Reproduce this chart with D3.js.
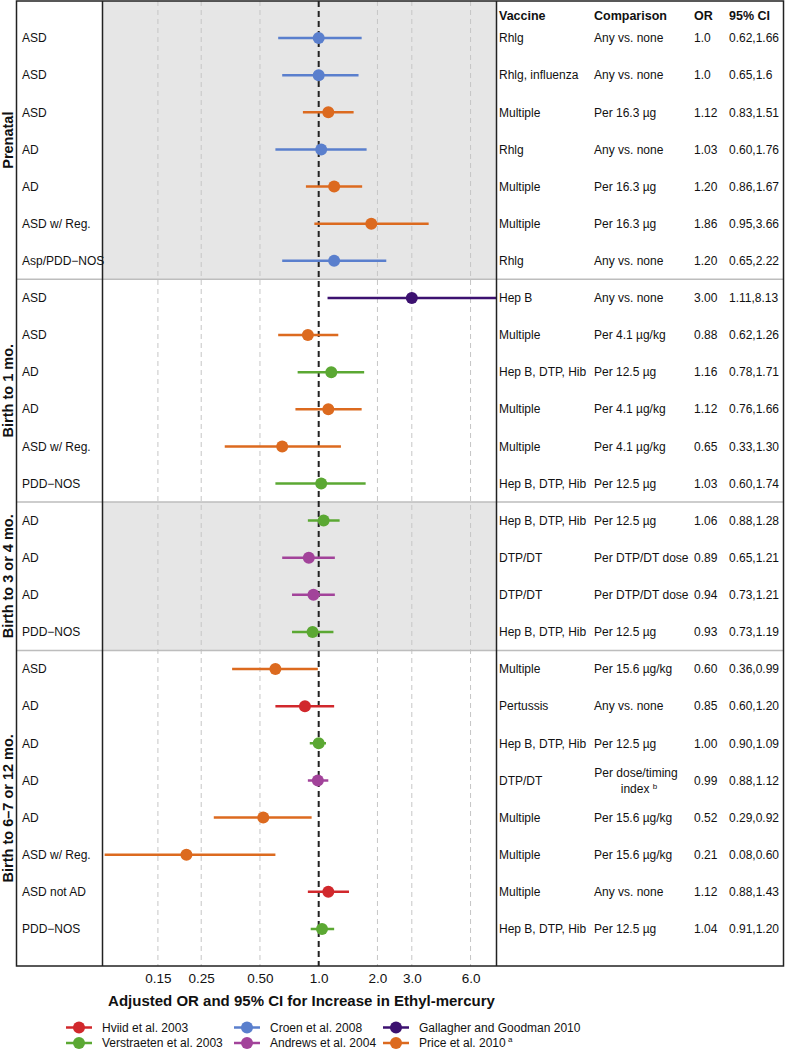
<!DOCTYPE html>
<html>
<head>
<meta charset="utf-8">
<script src="https://cdn.jsdelivr.net/npm/d3@7"></script>
<style>
  html, body { margin: 0; padding: 0; background: #fff; }
  svg { display: block; font-family: "Liberation Sans", Arial, sans-serif; }
</style>
</head>
<body>
<svg id="chart" width="786" height="1050"></svg>
<script>
// ---------------- DATA ----------------
const sectionNames = ["Prenatal", "Birth to 1 mo.", "Birth to 3 or 4 mo.", "Birth to 6\u20137 or 12 mo."];
const sectionSizes = [7, 6, 4, 8];
const sectionShaded = [true, false, true, false];

const outcomes = [
  "ASD", "ASD", "ASD", "AD", "AD", "ASD w/ Reg.", "Asp/PDD\u2212NOS",
  "ASD", "ASD", "AD", "AD", "ASD w/ Reg.", "PDD\u2212NOS",
  "AD", "AD", "AD", "PDD\u2212NOS",
  "ASD", "AD", "AD", "AD", "AD", "ASD w/ Reg.", "ASD not AD", "PDD\u2212NOS"
];
const studies = [
  "Croen", "Croen", "Price", "Croen", "Price", "Price", "Croen",
  "Gallagher", "Price", "Verstraeten", "Price", "Price", "Verstraeten",
  "Verstraeten", "Andrews", "Andrews", "Verstraeten",
  "Price", "Hviid", "Verstraeten", "Andrews", "Price", "Price", "Hviid", "Verstraeten"
];
const vaccines = [
  "Rhlg", "Rhlg, influenza", "Multiple", "Rhlg", "Multiple", "Multiple", "Rhlg",
  "Hep B", "Multiple", "Hep B, DTP, Hib", "Multiple", "Multiple", "Hep B, DTP, Hib",
  "Hep B, DTP, Hib", "DTP/DT", "DTP/DT", "Hep B, DTP, Hib",
  "Multiple", "Pertussis", "Hep B, DTP, Hib", "DTP/DT", "Multiple", "Multiple", "Multiple", "Hep B, DTP, Hib"
];
const comparisons = [
  "Any vs. none", "Any vs. none", "Per 16.3 \u00b5g", "Any vs. none", "Per 16.3 \u00b5g", "Per 16.3 \u00b5g", "Any vs. none",
  "Any vs. none", "Per 4.1 \u00b5g/kg", "Per 12.5 \u00b5g", "Per 4.1 \u00b5g/kg", "Per 4.1 \u00b5g/kg", "Per 12.5 \u00b5g",
  "Per 12.5 \u00b5g", "Per DTP/DT dose", "Per DTP/DT dose", "Per 12.5 \u00b5g",
  "Per 15.6 \u00b5g/kg", "Any vs. none", "Per 12.5 \u00b5g", "Per dose/timing|index", "Per 15.6 \u00b5g/kg", "Per 15.6 \u00b5g/kg", "Any vs. none", "Per 12.5 \u00b5g"
];
const orValues = [1.0, 1.0, 1.12, 1.03, 1.20, 1.86, 1.20,
  3.00, 0.88, 1.16, 1.12, 0.65, 1.03,
  1.06, 0.89, 0.94, 0.93,
  0.60, 0.85, 1.00, 0.99, 0.52, 0.21, 1.12, 1.04];
const ciLow = [0.62, 0.65, 0.83, 0.60, 0.86, 0.95, 0.65,
  1.11, 0.62, 0.78, 0.76, 0.33, 0.60,
  0.88, 0.65, 0.73, 0.73,
  0.36, 0.60, 0.90, 0.88, 0.29, 0.08, 0.88, 0.91];
const ciHigh = [1.66, 1.6, 1.51, 1.76, 1.67, 3.66, 2.22,
  8.13, 1.26, 1.71, 1.66, 1.30, 1.74,
  1.28, 1.21, 1.21, 1.19,
  0.99, 1.20, 1.09, 1.12, 0.92, 0.60, 1.43, 1.20];
const orLabels = ["1.0", "1.0", "1.12", "1.03", "1.20", "1.86", "1.20",
  "3.00", "0.88", "1.16", "1.12", "0.65", "1.03",
  "1.06", "0.89", "0.94", "0.93",
  "0.60", "0.85", "1.00", "0.99", "0.52", "0.21", "1.12", "1.04"];
const ciLabels = ["0.62,1.66", "0.65,1.6", "0.83,1.51", "0.60,1.76", "0.86,1.67", "0.95,3.66", "0.65,2.22",
  "1.11,8.13", "0.62,1.26", "0.78,1.71", "0.76,1.66", "0.33,1.30", "0.60,1.74",
  "0.88,1.28", "0.65,1.21", "0.73,1.21", "0.73,1.19",
  "0.36,0.99", "0.60,1.20", "0.90,1.09", "0.88,1.12", "0.29,0.92", "0.08,0.60", "0.88,1.43", "0.91,1.20"];

const tickValues = [0.15, 0.25, 0.5, 1.0, 2.0, 3.0, 6.0];
const tickLabels = ["0.15", "0.25", "0.50", "1.0", "2.0", "3.0", "6.0"];

const studyKeys = ["Hviid", "Verstraeten", "Croen", "Andrews", "Gallagher", "Price"];
const studyNames = ["Hviid et al. 2003", "Verstraeten et al. 2003", "Croen et al. 2008", "Andrews et al. 2004", "Gallagher and Goodman 2010", "Price et al. 2010"];
const studyColors = ["#d1282c", "#5ba833", "#5a7fcd", "#a2439a", "#3c1170", "#dc6a1f"];
const tableHeaders = ["Vaccine", "Comparison", "OR", "95% CI"];

// ---------------- LAYOUT ----------------
const svg = d3.select("#chart");
const frameL = 16.5, panelL = 102.5, panelR = 496.5, frameR = 783.5, topY = 1, bottomY = 966;
const colX = [499, 594, 694, 729];

const x = d3.scaleLog().domain([0.078, 8.15]).range([panelL, panelR]);
const y = d3.scaleLinear().domain([0, 26]).range([topY, bottomY]);
const color = d3.scaleOrdinal().domain(studyKeys).range(studyColors);

const rows = outcomes.map((o, i) => ({
  i, pos: i + 1, outcome: o, study: studies[i], vaccine: vaccines[i], comp: comparisons[i],
  or: orValues[i], lo: ciLow[i], hi: ciHigh[i], orL: orLabels[i], ciL: ciLabels[i]
}));

let start = 1;
const sections = sectionNames.map((n, k) => {
  const s = { name: n, first: start, last: start + sectionSizes[k] - 1, shaded: sectionShaded[k] };
  start += sectionSizes[k];
  return s;
});
sections.forEach((s, k) => {
  s.y0 = k === 0 ? 0 : s.first - 0.5;
  s.y1 = k === sections.length - 1 ? 26 : s.last + 0.5;
});

// shaded backgrounds
svg.append("g").selectAll("rect").data(sections.filter(s => s.shaded)).join("rect")
  .attr("x", panelL).attr("width", panelR - panelL)
  .attr("y", s => y(s.y0)).attr("height", s => y(s.y1) - y(s.y0))
  .attr("fill", "#e6e6e6");

// grid lines
svg.append("g").selectAll("line").data(tickValues.filter(t => t !== 1)).join("line")
  .attr("x1", d => x(d)).attr("x2", d => x(d))
  .attr("y1", topY).attr("y2", bottomY)
  .attr("stroke", "#c6c6c6").attr("stroke-width", 1).attr("stroke-dasharray", "5,4");

// section separators
svg.append("g").selectAll("line").data(sections.slice(1)).join("line")
  .attr("x1", frameL).attr("x2", frameR)
  .attr("y1", s => y(s.y0)).attr("y2", s => y(s.y0))
  .attr("stroke", "#bdbdbd").attr("stroke-width", 1.5);

// reference line at 1
svg.append("line")
  .attr("x1", x(1)).attr("x2", x(1)).attr("y1", topY).attr("y2", bottomY)
  .attr("stroke", "#222").attr("stroke-width", 2).attr("stroke-dasharray", "6,4");

// CI lines and points
svg.append("clipPath").attr("id", "pclip").append("rect")
  .attr("x", panelL).attr("y", topY).attr("width", panelR - panelL).attr("height", bottomY - topY);
const marks = svg.append("g").attr("clip-path", "url(#pclip)");
marks.selectAll("line").data(rows).join("line")
  .attr("x1", d => x(d.lo)).attr("x2", d => x(d.hi))
  .attr("y1", d => y(d.pos)).attr("y2", d => y(d.pos))
  .attr("stroke", d => color(d.study)).attr("stroke-width", 2.5);
marks.selectAll("circle").data(rows).join("circle")
  .attr("cx", d => x(d.or)).attr("cy", d => y(d.pos)).attr("r", 6)
  .attr("fill", d => color(d.study));

// frame lines
svg.append("rect").attr("x", frameL).attr("y", topY).attr("width", frameR - frameL).attr("height", bottomY - topY)
  .attr("fill", "none").attr("stroke", "#222").attr("stroke-width", 1.5);
[panelL, panelR].forEach(px => svg.append("line")
  .attr("x1", px).attr("x2", px).attr("y1", topY).attr("y2", bottomY)
  .attr("stroke", "#222").attr("stroke-width", 1.5));

// row labels
svg.append("g").selectAll("text").data(rows).join("text")
  .attr("x", 22).attr("y", d => y(d.pos)).attr("dy", "0.35em")
  .attr("font-size", 12).attr("fill", "#111").text(d => d.outcome);

// section labels
svg.append("g").selectAll("text").data(sections).join("text")
  .attr("transform", s => `translate(13,${(y(s.y0) + y(s.y1)) / 2}) rotate(-90)`)
  .attr("text-anchor", "middle").attr("font-size", 14.5).attr("font-weight", "bold")
  .attr("fill", "#111").text(s => s.name);

// table header
svg.append("g").selectAll("text").data(tableHeaders).join("text")
  .attr("x", (d, k) => colX[k]).attr("y", 20)
  .attr("font-size", 12.5).attr("font-weight", "bold").attr("fill", "#111").text(d => d);

// table body
const tbl = svg.append("g").attr("font-size", 12).attr("fill", "#111");
tbl.selectAll("text.vac").data(rows).join("text").attr("class", "vac")
  .attr("x", colX[0]).attr("y", d => y(d.pos)).attr("dy", "0.35em").text(d => d.vaccine);
rows.forEach(d => {
  const parts = d.comp.split("|");
  if (parts.length === 1) {
    tbl.append("text").attr("x", colX[1]).attr("y", y(d.pos)).attr("dy", "0.35em").text(d.comp);
  } else {
    const cx = colX[1] + 42;
    tbl.append("text").attr("x", cx).attr("text-anchor", "middle").attr("y", y(d.pos) - 8).attr("dy", "0.35em").text(parts[0]);
    const t = tbl.append("text").attr("x", cx + 3).attr("text-anchor", "middle").attr("y", y(d.pos) + 8).attr("dy", "0.35em");
    t.append("tspan").text(parts[1] + " ");
    t.append("tspan").attr("font-size", 8).attr("dy", "-0.5em").text("b");
  }
});
tbl.selectAll("text.or").data(rows).join("text").attr("class", "or")
  .attr("x", colX[2]).attr("y", d => y(d.pos)).attr("dy", "0.35em").text(d => d.orL);
tbl.selectAll("text.ci").data(rows).join("text").attr("class", "ci")
  .attr("x", colX[3]).attr("y", d => y(d.pos)).attr("dy", "0.35em").text(d => d.ciL);

// x axis
const axis = d3.axisBottom(x).tickValues(tickValues).tickSize(0).tickPadding(7)
  .tickFormat((d, k) => tickLabels[k]);
const ag = svg.append("g").attr("transform", `translate(0,${bottomY})`).call(axis);
ag.select(".domain").remove();
ag.selectAll("text").attr("font-size", 13.5).attr("fill", "#111")
  .attr("font-family", "'Liberation Sans', Arial, sans-serif");

svg.append("text").attr("x", (panelL + panelR) / 2 + 2).attr("y", 1006)
  .attr("text-anchor", "middle").attr("font-size", 15).attr("font-weight", "bold").attr("fill", "#111")
  .text("Adjusted OR and 95% CI for Increase in Ethyl-mercury");

// legend
const legX = [79, 247, 396];
const legY = [1027.5, 1043];
const leg = svg.append("g");
studyKeys.forEach((k, j) => {
  const cx = legX[Math.floor(j / 2)], cy = legY[j % 2];
  leg.append("line").attr("x1", cx - 13).attr("x2", cx + 13).attr("y1", cy).attr("y2", cy)
    .attr("stroke", color(k)).attr("stroke-width", 2.5);
  leg.append("circle").attr("cx", cx).attr("cy", cy).attr("r", 6).attr("fill", color(k));
  const t = leg.append("text").attr("x", cx + 23).attr("y", cy).attr("dy", "0.35em")
    .attr("font-size", 12).attr("fill", "#111").text(studyNames[j]);
  if (k === "Price") t.append("tspan").attr("font-size", 8).attr("dy", "-0.6em").text(" a");
});
</script>
</body>
</html>
